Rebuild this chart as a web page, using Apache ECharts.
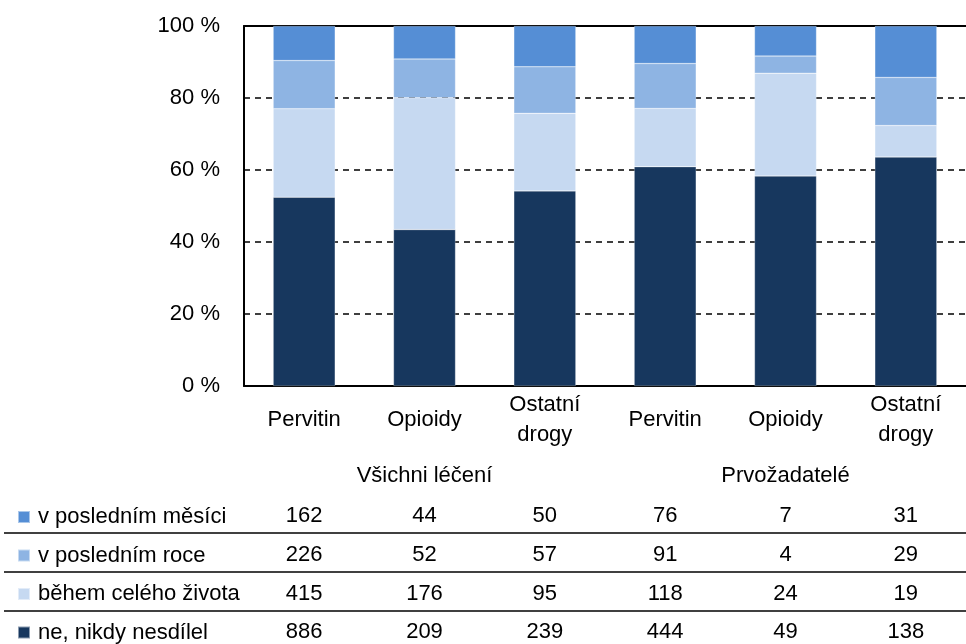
<!DOCTYPE html>
<html>
<head>
<meta charset="utf-8">
<script src="https://cdn.jsdelivr.net/npm/echarts@6/dist/echarts.min.js"></script>
<style>
  html, body { margin: 0; padding: 0; background: #fff; }
  #chart { width: 966px; height: 644px; }
</style>
</head>
<body>
<div id="chart"></div>
<script>
// kategorie a skupiny
const categories = ["Pervitin", "Opioidy", "Ostatní\ndrogy", "Pervitin", "Opioidy", "Ostatní\ndrogy"];
const groups = ["", "Všichni léčení", "", "", "Prvožadatelé", ""];
const seriesNames = ["v posledním měsíci", "v posledním roce", "během celého života", "ne, nikdy nesdílel"];

// počty (tabulka pod grafem)
const mesici = [162, 44, 50, 76, 7, 31];
const roce = [226, 52, 57, 91, 4, 29];
const zivota = [415, 176, 95, 118, 24, 19];
const nikdy = [886, 209, 239, 444, 49, 138];

const colors = ["#558ED5", "#8EB4E3", "#C6D9F1", "#17375E"];
const font = "'Liberation Sans', Arial, sans-serif";
const fs = 22;

const rows = [mesici, roce, zivota, nikdy];
const totals = categories.map((c, i) => rows.reduce((s, r) => s + r[i], 0));
const pct = (arr) => arr.map((v, i) => +(v / totals[i] * 100).toFixed(2));

let chart = echarts.init(document.getElementById("chart"));

function tableAxis(data, margin) {
  return {
    type: "category", gridIndex: 0, position: "bottom", data: data,
    axisLine: { show: false }, axisTick: { show: false }, splitLine: { show: false },
    axisLabel: { interval: 0, margin: margin, fontSize: fs, color: "#000", fontFamily: font, verticalAlign: "middle" }
  };
}

let series = [
  { name: seriesNames[3], data: pct(nikdy), color: colors[3] },
  { name: seriesNames[2], data: pct(zivota), color: colors[2] },
  { name: seriesNames[1], data: pct(roce), color: colors[1] },
  { name: seriesNames[0], data: pct(mesici), color: colors[0] }
].map((s) => ({
  type: "bar",
  name: s.name,
  stack: "all",
  barWidth: 62,
  xAxisIndex: 0,
  data: s.data,
  itemStyle: { color: s.color, borderColor: "rgba(255,255,255,0.5)", borderWidth: 0.5 }
}));

let option = {
  animation: false,
  color: colors,
  grid: { left: 244, top: 26, width: 732, height: 360, containLabel: false },
  legend: {
    orient: "vertical",
    left: 17,
    top: 506,
    padding: 0,
    data: seriesNames,
    icon: "rect",
    itemWidth: 12,
    itemHeight: 12,
    itemGap: 16.5,
    selectedMode: false,
    textStyle: { fontSize: fs, color: "#000", fontFamily: font, padding: [0, 0, 0, 3] }
  },
  xAxis: [
    {
      type: "category",
      data: categories,
      axisLine: { lineStyle: { color: "#000", width: 2 } },
      axisTick: { show: false },
      axisLabel: { interval: 0, margin: 34, fontSize: fs, color: "#000", fontFamily: font, lineHeight: 30, verticalAlign: "middle" }
    },
    {
      type: "category", position: "top", data: categories,
      axisLine: { show: true, lineStyle: { color: "#000", width: 2 } },
      axisTick: { show: false },
      axisLabel: { show: false }
    },
    tableAxis(groups, 90),
    tableAxis(mesici, 130),
    tableAxis(roce, 169),
    tableAxis(zivota, 208),
    tableAxis(nikdy, 246)
  ],
  yAxis: {
    type: "value",
    min: 0,
    max: 100,
    interval: 20,
    axisLine: { show: true, lineStyle: { color: "#000", width: 2 } },
    axisTick: { show: false },
    axisLabel: { formatter: "{value} %", fontSize: fs, color: "#000", fontFamily: font, margin: 24 },
    splitLine: { lineStyle: { color: "#000", type: [6, 5], width: 1.5 } }
  },
  series: series,
  graphic: [533, 572, 611].map((y) => ({
    type: "line",
    shape: { x1: 4, y1: y, x2: 966, y2: y },
    style: { stroke: "#404040", lineWidth: 2 }
  }))
};

chart.setOption(option);
</script>
</body>
</html>
